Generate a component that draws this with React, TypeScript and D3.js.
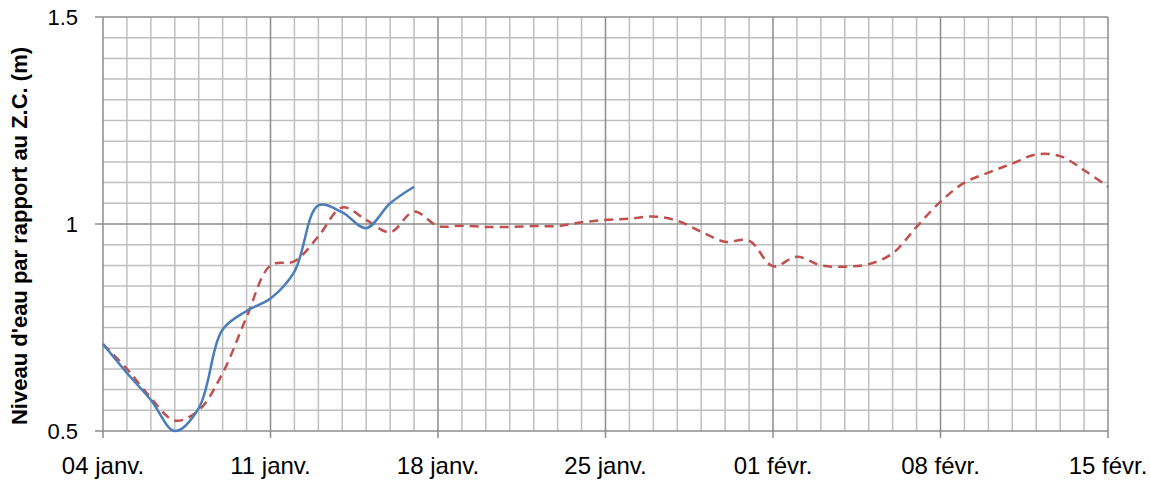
import React from 'react';
import * as d3 from 'd3';

// days since 04 janv.
const blueDays = [0, 1, 2, 3, 4, 5, 6, 7, 8, 9, 10, 11, 12, 13];
const blueLevel = [0.71, 0.64, 0.575, 0.5, 0.555, 0.745, 0.79, 0.82, 0.885, 1.045, 1.028, 0.99, 1.05, 1.09];

const redDays = d3.range(0, 43);
const redLevel = [
  0.71, 0.65, 0.58, 0.525, 0.55, 0.64, 0.775, 0.9, 0.91, 0.97,
  1.04, 1.01, 0.98, 1.03, 0.995, 0.996, 0.993, 0.993, 0.995, 0.995,
  1.004, 1.01, 1.013, 1.018, 1.008, 0.981, 0.957, 0.96, 0.898, 0.921,
  0.9, 0.897, 0.903, 0.929, 0.993, 1.054, 1.1, 1.124, 1.146, 1.168,
  1.164, 1.13, 1.09,
];

const xTickDays = [0, 7, 14, 21, 28, 35, 42];
const xTickLabels = ['04 janv.', '11 janv.', '18 janv.', '25 janv.', '01 févr.', '08 févr.', '15 févr.'];
const yTicks = [0.5, 1, 1.5];
const yTitle = "Niveau d'eau par rapport au Z.C. (m)";

const W = 1150;
const H = 483;
const margin = { top: 17, right: 42, bottom: 52, left: 103 };

export default function App() {
  const innerW = W - margin.left - margin.right;
  const innerH = H - margin.top - margin.bottom;

  const x = d3.scaleLinear().domain([0, 42]).range([0, innerW]);
  const y = d3.scaleLinear().domain([0.5, 1.5]).range([innerH, 0]);

  const line = d3.line<[number, number]>()
    .x(d => x(d[0]))
    .y(d => y(d[1]))
    .curve(d3.curveCatmullRom.alpha(0.5));

  const bluePath = line(blueDays.map((d, i) => [d, blueLevel[i]]));
  const redPath = line(redDays.map((d, i) => [d, redLevel[i]]));

  const dayLines = d3.range(0, 43);
  const levelLines = d3.range(0, 21).map(i => 0.5 + i * 0.05);

  const font = "'Liberation Sans', Arial, sans-serif";

  return (
    <div style={{ position: 'absolute', left: 0, top: 0 }}>
      <svg width={W} height={H} style={{ display: 'block', background: '#fff' }}>
        <g transform={`translate(${margin.left},${margin.top})`}>
          {/* minor grid */}
          {dayLines.filter(d => d % 7 !== 0).map(d => (
            <line key={'v' + d} x1={x(d)} x2={x(d)} y1={0} y2={innerH} stroke="#bfbfbf" strokeWidth={1.5} />
          ))}
          {levelLines.filter((_, i) => i % 10 !== 0).map((v, i) => (
            <line key={'h' + i} x1={0} x2={innerW} y1={y(v)} y2={y(v)} stroke="#bfbfbf" strokeWidth={1.5} />
          ))}
          {/* major grid */}
          {dayLines.filter(d => d % 7 === 0).map(d => (
            <line key={'V' + d} x1={x(d)} x2={x(d)} y1={0} y2={innerH + 7} stroke="#8c8c8c" strokeWidth={1.5} />
          ))}
          {yTicks.map(v => (
            <line key={'H' + v} x1={-8} x2={innerW} y1={y(v)} y2={y(v)} stroke="#8c8c8c" strokeWidth={1.5} />
          ))}

          {/* series */}
          <path d={redPath || ''} fill="none" stroke="#c0504d" strokeWidth={2.5} strokeDasharray="9,6" />
          <path d={bluePath || ''} fill="none" stroke="#4a7ebb" strokeWidth={2.5} />

          {/* y tick labels */}
          {yTicks.map(v => (
            <text key={'yl' + v} x={-25} y={y(v)} dy="0.35em" textAnchor="end"
              fontFamily={font} fontSize={22} fill="#000">{String(v)}</text>
          ))}

          {/* x tick labels */}
          {xTickDays.map((d, i) => (
            <text key={'xl' + d} x={x(d)} y={innerH + 43} textAnchor="middle"
              fontFamily={font} fontSize={24} fill="#000">{xTickLabels[i]}</text>
          ))}
        </g>

        <text transform={`translate(27,${margin.top + innerH / 2 + 12}) rotate(-90)`} textAnchor="middle"
          fontFamily={font} fontSize={22} fontWeight="bold" fill="#000">{yTitle}</text>
      </svg>
    </div>
  );
}
